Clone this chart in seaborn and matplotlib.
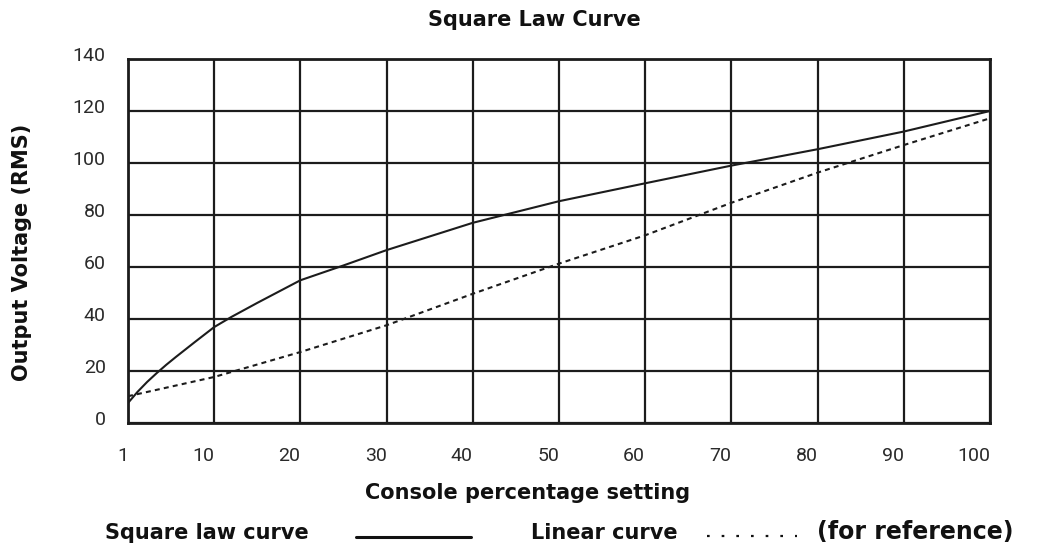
import numpy as np
import matplotlib
matplotlib.use("Agg")
import matplotlib.pyplot as plt
import matplotlib.transforms as mtransforms
from matplotlib.lines import Line2D
import seaborn as sns

# values
tick_settings = [1, 10, 20, 30, 40, 50, 60, 70, 80, 90, 100]
volt_ticks = [0, 20, 40, 60, 80, 100, 120, 140]

square_setting = [1, 2, 3, 4, 5, 6, 7, 8, 10, 12, 15, 20, 25, 30, 40, 50, 60, 70, 80, 90, 100]
square_volts = [7.7, 12, 15.8, 19.2, 22.4, 25.4, 28.3, 31.2, 36.9, 40.8, 46.2, 54.9, 60.6, 66.5,
                77, 85.3, 92.2, 99, 105.3, 112.1, 120]

linear_setting = tick_settings
linear_volts = [10.3, 17.7, 27.3, 37.6, 49.7, 61.3, 72.2, 84.7, 96.3, 106.9, 117.2]

INK = "#1c1c1c"
W, H = 1046, 546

sns.set_theme(style="white")
plt.rcParams["font.family"] = ["Liberation Sans", "DejaVu Sans"]
tick_font = ["Roboto", "Liberation Sans", "DejaVu Sans"]

fig = plt.figure(figsize=(W / 100, H / 100), dpi=100)
ax = fig.add_axes([128 / W, 1 - 423 / H, 862 / W, 364 / H])

# each tick gets one grid cell, so 1..10 sits in the first cell
slots = np.arange(len(tick_settings))


def fwd(v):
    return np.interp(v, tick_settings, slots)


def inv(p):
    return np.interp(p, slots, tick_settings)


ax.set_xscale("function", functions=(fwd, inv))

sns.lineplot(x=square_setting, y=square_volts, ax=ax, color=INK, lw=1.5, sort=False)
sns.lineplot(x=linear_setting, y=linear_volts, ax=ax, color=INK, lw=1.5, sort=False,
             linestyle=(0, (2.4, 2.0)))

ax.set_xlim(1, 100)
ax.set_ylim(0, 140)
ax.set_xticks(tick_settings)
ax.set_xticklabels([str(t) for t in tick_settings], ha="right")
ax.set_yticks(volt_ticks)
ax.set_yticklabels([str(v) for v in volt_ticks])
ax.tick_params(axis="x", length=0, pad=17, labelsize=14, labelcolor="#2a2a2a")
ax.tick_params(axis="y", length=0, pad=16, labelsize=14, labelcolor="#2a2a2a")
shift_up = mtransforms.ScaledTranslation(0, 5 / 100, fig.dpi_scale_trans)
for lbl in ax.get_yticklabels():
    lbl.set_fontfamily(tick_font)
    lbl.set_transform(lbl.get_transform() + shift_up)
for lbl in ax.get_xticklabels():
    lbl.set_fontfamily(tick_font)

ax.grid(True, color=INK, lw=1.6)
ax.set_axisbelow(True)
for s in ax.spines.values():
    s.set_color(INK)
    s.set_linewidth(2)
ax.set_xlabel("")
ax.set_ylabel("")

bold = dict(fontsize=15, fontweight="bold", color="#111111", family="DejaVu Sans")
fig.text(534 / W, 1 - 26 / H, "Square Law Curve", ha="center", va="baseline", **bold)
fig.text(528 / W, 1 - 499 / H, "Console percentage setting", ha="center", va="baseline", **bold)
fig.text(22 / W, 1 - 252 / H, "Output Voltage (RMS)", ha="center", va="center", rotation=90, **bold)

# legend row at the bottom: label first, sample line after it
base = 1 - 539 / H
fig.text(105 / W, base, "Square law curve", ha="left", va="baseline", **bold)
fig.add_artist(Line2D([356 / W, 471 / W], [base + 2 / H] * 2, color="#111111", lw=2.2))
fig.text(531 / W, base, "Linear curve", ha="left", va="baseline", **bold)
fig.add_artist(Line2D([707 / W, 797 / W], [base + 3 / H] * 2, color="#111111", lw=1.6,
                      linestyle=(0, (1.2, 5.4))))
fig.text(817 / W, base, "(for reference)", ha="left", va="baseline",
         fontsize=17, fontweight="bold", color="#111111", family="DejaVu Sans")

fig.savefig("out.png", dpi=100)
